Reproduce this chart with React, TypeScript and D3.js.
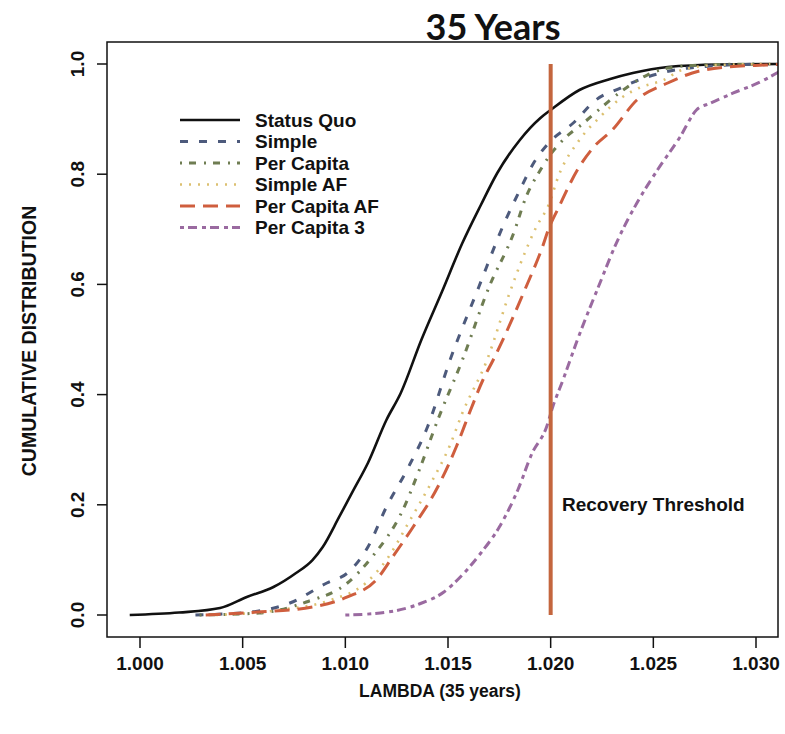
import React from "react";
import * as d3 from "d3";

// ---- data ----
const xTicks = [1.0, 1.005, 1.01, 1.015, 1.02, 1.025, 1.03];
const yTicks = [0, 0.2, 0.4, 0.6, 0.8, 1.0];
const threshold = 1.02;

const statusQuoX = [0.9995, 1.0019, 1.0039, 1.0052, 1.0065, 1.0076, 1.0084, 1.0089, 1.0097, 1.0104, 1.0111, 1.012, 1.0127, 1.0137, 1.0147, 1.0157, 1.0166, 1.0174, 1.0185, 1.0195, 1.02, 1.0214, 1.0229, 1.024, 1.0257, 1.0282, 1.0311];
const statusQuoY = [0, 0.0045, 0.0127, 0.0327, 0.0508, 0.0762, 0.0998, 0.1234, 0.1779, 0.2269, 0.2759, 0.3539, 0.4029, 0.4991, 0.5862, 0.6751, 0.7441, 0.8022, 0.8621, 0.902, 0.9165, 0.9528, 0.9728, 0.9837, 0.9946, 0.9991, 1.0];

const simpleX = [1.0027, 1.0054, 1.0073, 1.0091, 1.0101, 1.0111, 1.012, 1.013, 1.014, 1.0151, 1.0165, 1.0177, 1.0185, 1.0192, 1.0199, 1.0211, 1.0222, 1.0234, 1.0243, 1.0258, 1.0278, 1.0302];
const simpleY = [0, 0.0054, 0.0218, 0.0581, 0.0762, 0.1234, 0.196, 0.2632, 0.3412, 0.4628, 0.5953, 0.7078, 0.7713, 0.8221, 0.8566, 0.8929, 0.9347, 0.9564, 0.971, 0.9873, 0.9964, 1.0];

const perCapitaX = [1.0029, 1.0058, 1.0081, 1.0101, 1.0113, 1.0128, 1.0136, 1.0145, 1.0157, 1.017, 1.0182, 1.0188, 1.0195, 1.0199, 1.0206, 1.0216, 1.0225, 1.0234, 1.0247, 1.0257, 1.0273, 1.0302];
const perCapitaY = [0, 0.0036, 0.0236, 0.0581, 0.1053, 0.1906, 0.2632, 0.3539, 0.4628, 0.5953, 0.6933, 0.7586, 0.8076, 0.8312, 0.8621, 0.8929, 0.922, 0.9492, 0.98, 0.9927, 0.9982, 1.0];

const simpleAFX = [1.0037, 1.0068, 1.0093, 1.011, 1.0121, 1.0131, 1.0142, 1.0151, 1.0157, 1.0169, 1.018, 1.0186, 1.0193, 1.0199, 1.0204, 1.0214, 1.0224, 1.0235, 1.0243, 1.0255, 1.0264, 1.0281, 1.0307];
const simpleAFY = [0, 0.0091, 0.0272, 0.0581, 0.1053, 0.1688, 0.2414, 0.3085, 0.3666, 0.4628, 0.5844, 0.6443, 0.7042, 0.7441, 0.7985, 0.8621, 0.9038, 0.9401, 0.9564, 0.971, 0.9891, 0.9982, 1.0];

const perCapitaAFX = [1.0032, 1.0057, 1.0084, 1.0101, 1.0115, 1.0123, 1.0133, 1.0145, 1.0154, 1.0161, 1.0167, 1.0172, 1.0188, 1.0196, 1.0199, 1.0204, 1.0213, 1.0221, 1.023, 1.0242, 1.0257, 1.0269, 1.0286, 1.0305, 1.0311];
const perCapitaAFY = [0, 0.0054, 0.0145, 0.0327, 0.0635, 0.1053, 0.1597, 0.2323, 0.3049, 0.3721, 0.4265, 0.4628, 0.5953, 0.6679, 0.7005, 0.7405, 0.8076, 0.8494, 0.8802, 0.9347, 0.9655, 0.9837, 0.9946, 0.9982, 0.9991];

const perCapita3X = [1.01, 1.0117, 1.0136, 1.0148, 1.0156, 1.0166, 1.0175, 1.0184, 1.0191, 1.0198, 1.0201, 1.0206, 1.0213, 1.0224, 1.0232, 1.0242, 1.0252, 1.0263, 1.0271, 1.0278, 1.0289, 1.0302, 1.0311];
const perCapita3Y = [0, 0.0036, 0.02, 0.0417, 0.069, 0.1125, 0.1597, 0.2269, 0.294, 0.3412, 0.3775, 0.4265, 0.4991, 0.6025, 0.6751, 0.7477, 0.8076, 0.8675, 0.9165, 0.9292, 0.9474, 0.9673, 0.9855];

const seriesNames = ["Status Quo", "Simple", "Per Capita", "Simple AF", "Per Capita AF", "Per Capita 3"];
const seriesX = [statusQuoX, simpleX, perCapitaX, simpleAFX, perCapitaAFX, perCapita3X];
const seriesY = [statusQuoY, simpleY, perCapitaY, simpleAFY, perCapitaAFY, perCapita3Y];

// ---- styles ----
const seriesStyle = [
  { color: "#111111", dash: "", width: 2.6 },
  { color: "#4d5a7c", dash: "8 11", width: 3 },
  { color: "#6f7d52", dash: "2 7 7 8", width: 3 },
  { color: "#dcc070", dash: "2 7", width: 2.6 },
  { color: "#cf5e3e", dash: "15 8", width: 3 },
  { color: "#9a6aa0", dash: "4 4 9 5", width: 3 },
];

const W = 785;
const H = 734;
const box = { left: 107, right: 778, top: 42, bottom: 637 };
const FONT = "'Liberation Sans', Arial, Helvetica, sans-serif";

export default function App() {
  const x = d3.scaleLinear().domain([1.0, 1.03]).range([140, 756]);
  const y = d3.scaleLinear().domain([0, 1]).range([615, 64]);

  const line = d3
    .line<[number, number]>()
    .x((d) => x(d[0]))
    .y((d) => y(d[1]))
    .curve(d3.curveMonotoneX);

  const legendRows = seriesNames.map((_, i) => 120 + i * 21.5);

  return (
    <svg
      width={W}
      height={H}
      style={{ position: "absolute", left: 0, top: 0, display: "block", background: "#fff" }}
      fontFamily={FONT}
    >
      <defs>
        <clipPath id="plotClip">
          <rect x={box.left} y={box.top} width={box.right - box.left} height={box.bottom - box.top} />
        </clipPath>
      </defs>
      <rect x={0} y={0} width={W} height={H} fill="#fff" />

      {/* title */}
      <text x={493} y={40} textAnchor="middle" fontFamily="Lato, 'Open Sans', sans-serif" fontWeight={700} fontSize={36} fill="#111">
        35 Years
      </text>

      {/* curves */}
      <g clipPath="url(#plotClip)">
        {seriesX.map((xs, i) => {
          const pts: [number, number][] = xs.map((v, j) => [v, seriesY[i][j]]);
          const s = seriesStyle[i];
          return (
            <path
              key={seriesNames[i]}
              d={line(pts) || ""}
              fill="none"
              stroke={s.color}
              strokeWidth={s.width}
              strokeDasharray={s.dash || undefined}
              strokeLinejoin="round"
            />
          );
        })}
        {/* threshold */}
        <line x1={x(threshold)} x2={x(threshold)} y1={y(0)} y2={y(1)} stroke="#c4663e" strokeWidth={4} />
      </g>

      <text x={562} y={511} fontSize={19} fontWeight={700} fill="#111">
        Recovery Threshold
      </text>

      {/* box */}
      <rect x={box.left} y={box.top} width={box.right - box.left} height={box.bottom - box.top} fill="none" stroke="#111" strokeWidth={1.5} />

      {/* x axis */}
      {xTicks.map((t) => (
        <g key={"x" + t}>
          <line x1={x(t)} x2={x(t)} y1={box.bottom} y2={box.bottom + 11} stroke="#111" strokeWidth={1.5} />
          <text x={x(t)} y={670} textAnchor="middle" fontSize={19} fontWeight={700} fill="#111">
            {d3.format(".3f")(t)}
          </text>
        </g>
      ))}
      <text x={440} y={697} textAnchor="middle" fontSize={17.5} fontWeight={700} fill="#111">
        LAMBDA (35 years)
      </text>

      {/* y axis */}
      {yTicks.map((t) => (
        <g key={"y" + t}>
          <line x1={box.left - 10} x2={box.left} y1={y(t)} y2={y(t)} stroke="#111" strokeWidth={1.5} />
          <text
            transform={`translate(84,${y(t)}) rotate(-90)`}
            textAnchor="middle"
            fontSize={19}
            fontWeight={700}
            fill="#111"
          >
            {d3.format(".1f")(t)}
          </text>
        </g>
      ))}
      <text transform={`translate(36,341) rotate(-90)`} textAnchor="middle" fontSize={19.5} fontWeight={700} fill="#111">
        CUMULATIVE DISTRIBUTION
      </text>

      {/* legend */}
      {seriesNames.map((name, i) => {
        const s = seriesStyle[i];
        const ry = legendRows[i];
        return (
          <g key={"leg" + name}>
            <line
              x1={180}
              x2={240}
              y1={ry}
              y2={ry}
              stroke={s.color}
              strokeWidth={s.width}
              strokeDasharray={s.dash || undefined}
            />
            <text x={255} y={ry + 6.5} fontSize={19} fontWeight={700} fill="#111">
              {name}
            </text>
          </g>
        );
      })}
    </svg>
  );
}
